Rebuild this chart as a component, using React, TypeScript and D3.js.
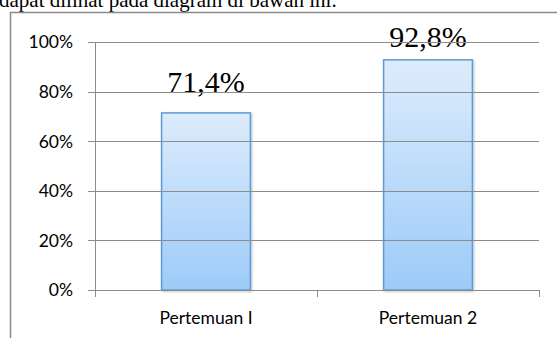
import React from "react";
import * as d3 from "d3";

const categories = ["Pertemuan I", "Pertemuan 2"];
const values = [0.714, 0.928];
const valueLabels = ["71,4%", "92,8%"];
const yTicks = [0, 0.2, 0.4, 0.6, 0.8, 1.0];
const caption = "dapat dilihat pada diagram di bawah ini.";

export default function App() {
  const W = 557, H = 338;
  const x0 = 95, x1 = 539, y0 = 290, y1 = 42;
  const x = d3.scaleBand<string>().domain(categories).range([x0, x1]).paddingInner(0.6).paddingOuter(0.3);
  const xb = d3.scaleBand<string>().domain(categories).range([x0, x1]);
  const y = d3.scaleLinear().domain([0, 1]).range([y0, y1]);
  const grid = "#8c8c8c";
  const sans = "Lato, Open Sans, sans-serif";
  const serif = "Liberation Serif, Times New Roman, serif";
  return (
    <svg width={W} height={H} style={{ position: "absolute", left: 0, top: 0, display: "block" }}>
      <defs>
        <linearGradient id="barg" x1="0" y1="0" x2="0" y2="1">
          <stop offset="0%" stopColor="#ddecfc" />
          <stop offset="100%" stopColor="#9ccbf8" />
        </linearGradient>
        <filter id="sh" x="-20%" y="-20%" width="140%" height="140%">
          <feDropShadow dx="1" dy="1" stdDeviation="1" floodColor="#000" floodOpacity="0.25" />
        </filter>
      </defs>
      <rect width={W} height={H} fill="#fff" />
      <text x={-1} y={7} fontFamily={serif} fontSize={21} fill="#000">{caption}</text>
      <path d={`M10.5,${H} V12.5 H${W}`} fill="none" stroke="#8a8a8a" strokeWidth={1.5} />
      {categories.map((c, i) => (
        <rect key={c} x={x(c)!} y={y(values[i])} width={x.bandwidth()} height={y0 - y(values[i])} fill="url(#barg)" stroke="#5d9bd6" strokeWidth={1.5} filter="url(#sh)" />
      ))}
      {categories.map((c, i) => (
        <text key={c} x={x(c)! + x.bandwidth() / 2} y={Math.max(y(values[i]) - 21, 47)} textAnchor="middle" fontFamily={serif} fontSize={30} fill="#000">{valueLabels[i]}</text>
      ))}
      {yTicks.map((t) => (
        <g key={t}>
          <line x1={x0 - 7} x2={x1} y1={Math.round(y(t)) + 0.5} y2={Math.round(y(t)) + 0.5} stroke={grid} strokeWidth={1} />
          <text x={73} y={y(t) + 6.3} textAnchor="end" fontFamily={sans} fontSize={17.5} fill="#000">{Math.round(t * 100)}%</text>
        </g>
      ))}
      <line x1={x0 + 0.5} x2={x0 + 0.5} y1={y1} y2={y0 + 7} stroke={grid} />
      {[...categories.map((c) => xb(c)!), x1].map((p, i) => (
        <line key={i} x1={Math.round(p) + 0.5} x2={Math.round(p) + 0.5} y1={y0} y2={y0 + 7} stroke={grid} />
      ))}
      {categories.map((c) => (
        <text key={c} x={xb(c)! + xb.bandwidth() / 2} y={324} textAnchor="middle" fontFamily={sans} fontSize={17.5} fill="#000">{c}</text>
      ))}
    </svg>
  );
}
